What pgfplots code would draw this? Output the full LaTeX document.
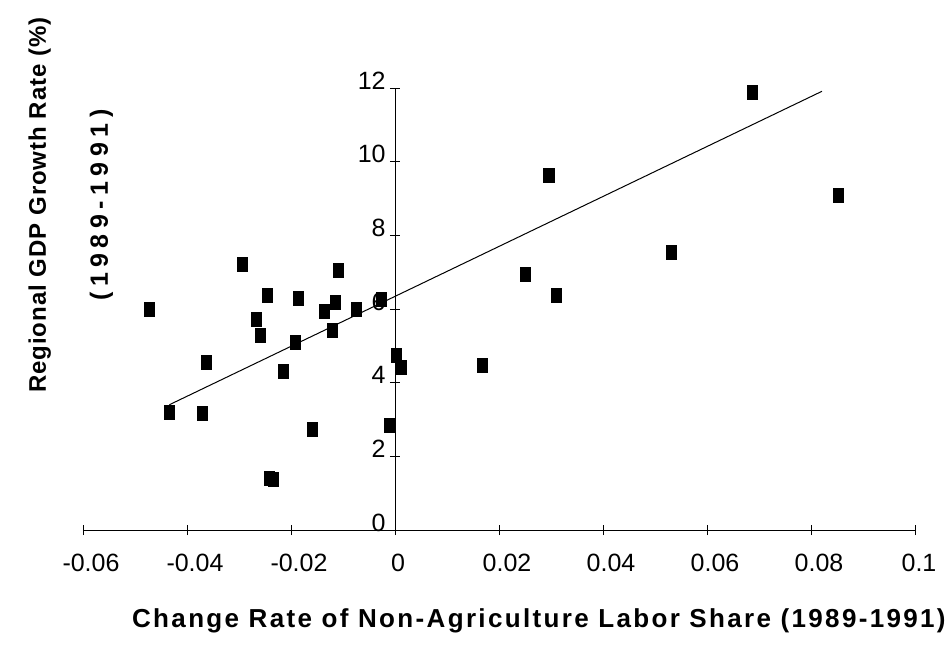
\documentclass[border=0pt]{standalone}
\usepackage{fontspec}
\setmainfont{Liberation Sans}
\usepackage{pgfplots}
\usepackage{pgfplotstable}
\pgfplotsset{compat=1.18}

% change rate of non-agricultural labour share vs. regional GDP growth
\pgfplotstableread{
x        y
-0.0473  5.98
-0.0434  3.19
-0.0370  3.17
-0.0362  4.55
-0.0293  7.20
-0.0267  5.73
-0.0258  5.27
-0.0246  6.37
-0.0241  1.40
-0.0233  1.38
-0.0215  4.30
-0.0192  5.09
-0.0185  6.30
-0.0158  2.72
-0.0135  5.93
-0.0121  5.43
-0.0114  6.19
-0.0109  7.05
-0.0075  5.98
-0.0026  6.25
-0.0010  2.83
 0.0003  4.73
 0.0012  4.42
 0.0168  4.48
 0.0250  6.95
 0.0296  9.63
 0.0311  6.36
 0.0531  7.54
 0.0688 11.88
 0.0853  9.08
}\regions

\newcommand{\ticksize}{\fontsize{12.5}{15}\selectfont}

\begin{document}
\begin{tikzpicture}
\begin{axis}[
  scale only axis, width=416pt, height=221pt,
  xmin=-0.06, xmax=0.1, ymin=0, ymax=12,
  axis lines=middle,
  axis line style={-, line width=0.5pt},
  hide obscured x ticks=false, hide obscured y ticks=false,
  xtick={-0.06,-0.04,-0.02,0,0.02,0.04,0.06,0.08,0.1},
  xticklabels={-0.06,-0.04,-0.02,\hspace*{-5pt}0,0.02,0.04,0.06,0.08,\hspace*{-4pt}0.1},
  ytick={0,2,4,6,8,10,12},
  yticklabels={0,2,4,6,8,10,12},
  tick align=center, major tick length=5pt,
  tick style={black, line width=0.4pt},
  xticklabel style={anchor=north, inner sep=0pt, yshift=-9.5pt, xshift=4pt, font=\ticksize},
  yticklabel style={anchor=base east, inner sep=0pt, xshift=-2pt, yshift=-0.5pt, font=\ticksize},
  clip=false,
]
\addplot[only marks, mark=square*, mark size=3.5pt,
  mark options={xscale=0.72, fill=black, draw=black}] table[x=x, y=y] {\regions};
\addplot[black, line width=0.5pt] coordinates {(-0.0434,3.40) (0.0821,11.91)};

\node[anchor=base, inner sep=0pt,
  font=\fontsize{13}{16}\selectfont\bfseries\addfontfeature{LetterSpace=9}]
  at (axis description cs:0.548,-0.2195)
  {Change Rate of Non-Agriculture Labor Share (1989-1991)};
\node[rotate=90, anchor=north, inner sep=0pt, align=center,
  font=\fontsize{12}{15}\selectfont\bfseries]
  at (axis description cs:-0.066,0.735)
  {{\addfontfeature{LetterSpace=4}Regional GDP Growth Rate (\%)}\\[16pt]
   {\fontsize{12.5}{15}\selectfont\addfontfeature{LetterSpace=22}(1989-1991)}};

\coordinate (bl) at (axis cs:-0.06,0);
\coordinate (tr) at (axis cs:0.1,12);
\end{axis}
\pgfresetboundingbox
\path[use as bounding box] ([shift={(-41.5pt,-57pt)}]bl) rectangle ([shift={(17pt,44pt)}]tr);
\end{tikzpicture}
\end{document}
